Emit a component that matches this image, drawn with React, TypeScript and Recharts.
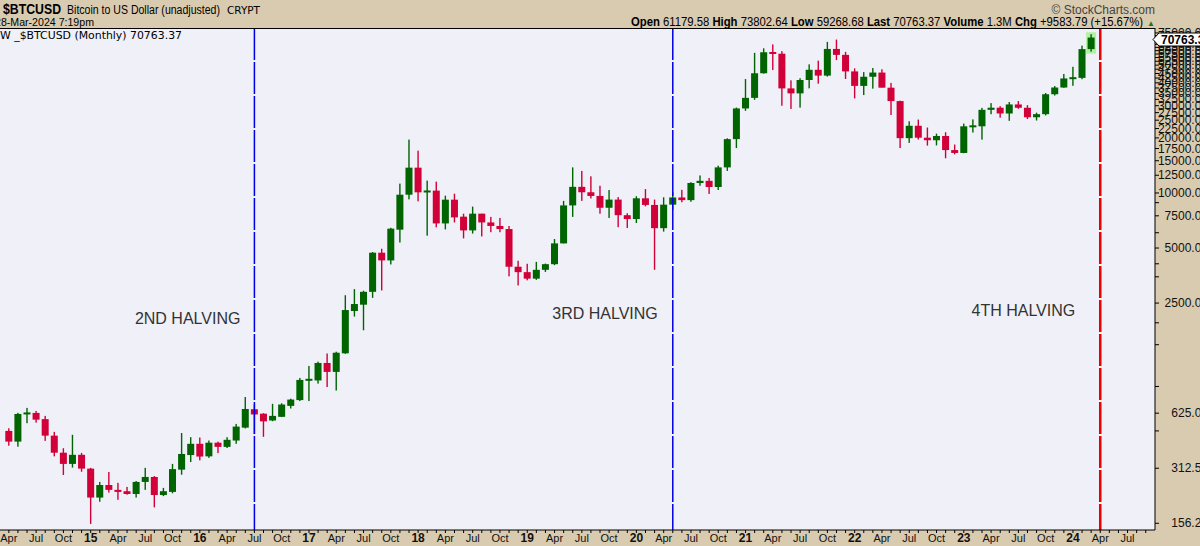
import React from "react";
import {
  ComposedChart,
  Bar,
  XAxis,
  YAxis,
  CartesianGrid,
  ReferenceLine,
} from "recharts";

// monthly candles, first one is Apr 2014, last one Mar 2024
const START_YEAR = 2014;
const START_MONTH = 3; // 0 = Jan

const opens = [
  500, 437, 619, 627, 580, 471, 380, 330, 370,
  311, 216, 253, 238, 234, 226, 263, 280, 223, 232, 307, 369,
  425, 363, 431, 409, 443, 521, 657, 621, 570, 597, 685, 737,
  948, 944, 1176, 1051, 1328, 2262, 2450, 2880, 4714, 4278, 6300, 9783,
  13750, 10080, 10300, 6815, 9190, 7420, 6242, 7705, 6900, 6600, 6350, 3950,
  3690, 3400, 3800, 4080, 5300, 8550, 10800, 10090, 9630, 8300, 9200, 7560,
  7200, 9350, 8600, 6420, 8630, 9450, 9140, 11340, 11650, 10780, 13800, 19700,
  28990, 33110, 45140, 58800, 57720, 37300, 35040, 41460, 47150, 43820, 61300, 56900,
  46200, 38500, 43190, 45540, 37640, 31800, 19940, 23300, 20050, 19420, 20490, 17160,
  16550, 23140, 23150, 28480, 29250, 27200, 30480, 29230, 25940, 26970, 34660, 37720,
  42280, 42580, 61180,
];
const highs = [
  517, 628, 668, 643, 604, 494, 402, 476, 379,
  314, 263, 298, 260, 247, 266, 314, 283, 244, 330, 487, 462,
  460, 443, 437, 462, 546, 766, 700, 625, 703, 708, 750, 974,
  1133, 1196, 1325, 1355, 2760, 2980, 2920, 4750, 4955, 6450, 11250, 19580,
  17030, 11680, 11530, 9665, 9910, 7705, 8420, 7705, 7400, 7300, 6600, 4260,
  4100, 4200, 4110, 5600, 9050, 13800, 13200, 12330, 10950, 10380, 9500, 7750,
  9600, 10500, 9200, 9470, 10080, 10400, 11450, 12470, 12080, 14100, 19900, 29300,
  41950, 58350, 61780, 64900, 59600, 41300, 42400, 50500, 52900, 67000, 69000, 59100,
  47990, 45800, 48200, 47450, 39980, 31960, 24670, 25200, 22800, 21100, 21480, 18400,
  23950, 25250, 29190, 31000, 29840, 31430, 31800, 30200, 27480, 35200, 38400, 44700,
  48970, 63900, 73800,
];
const lows = [
  415, 410, 551, 555, 441, 363, 287, 315, 299,
  155, 205, 230, 210, 224, 216, 238, 191, 220, 228, 288, 338,
  345, 356, 378, 403, 425, 516, 480, 464, 565, 596, 663, 728,
  728, 907, 869, 831, 1320, 2110, 1775, 2670, 2930, 4066, 5360, 9227,
  9000, 5840, 6485, 6320, 6900, 5645, 6000, 5785, 6100, 6100, 3500, 3120,
  3330, 3350, 3700, 4030, 5300, 7400, 9050, 9330, 7700, 7300, 6500, 6430,
  6850, 8450, 3800, 6150, 8100, 8900, 8950, 10950, 9880, 10380, 13200, 17600,
  28130, 32300, 44950, 47000, 30000, 28800, 29280, 37330, 39600, 43300, 53250, 42000,
  32900, 34300, 37200, 37700, 26700, 17600, 18780, 19600, 18150, 18200, 15480, 16260,
  16500, 21400, 19570, 26950, 25800, 24800, 28860, 25360, 24900, 26550, 34100, 37600,
  38550, 41880, 59270,
];
const closes = [
  437, 619, 627, 576, 471, 380, 330, 370, 311,
  216, 253, 238, 232, 226, 263, 280, 223, 234, 309, 374, 425,
  362, 431, 409, 447, 528, 659, 615, 564, 604, 697, 742, 950,
  955, 1176, 1051, 1338, 2290, 2470, 2880, 4714, 4278, 6380, 9783, 13750,
  10080, 10300, 6815, 9190, 7352, 6242, 7705, 6900, 6600, 6350, 3950, 3690,
  3400, 3800, 4080, 5300, 8550, 10800, 10090, 9630, 8300, 9200, 7560, 7200,
  9350, 8600, 6420, 8630, 9450, 9140, 11340, 11650, 10780, 13800, 19700, 28990,
  33110, 45140, 58800, 57720, 37300, 35040, 41460, 47150, 43820, 61300, 56900, 46200,
  38500, 43190, 45540, 37640, 31800, 19940, 23300, 20050, 19420, 20490, 17160, 16550,
  23140, 23150, 28480, 29250, 27200, 30480, 29230, 25940, 26970, 34660, 37720, 42280,
  42580, 61180, 70763.37,
];

// halving markers (month index)
const halvings = [
  { idx: 27, label: "2ND HALVING", color: "#0000e6", width: 1.5, dx: -14, y: 324 },
  { idx: 73, label: "3RD HALVING", color: "#0000e6", width: 1.5, dx: -15, y: 319 },
  { idx: 120, label: "4TH HALVING", color: "#ee0000", width: 2.5, dx: -25, y: 316 },
];

const yLabelTicks = [
  156.25, 312.5, 625, 2500, 5000, 7500, 10000, 12500, 15000, 17500, 20000,
  22500, 25000, 27500, 30000, 32500, 35000, 37500, 40000, 42500, 45000,
  47500, 50000, 52500, 55000, 57500, 60000, 62500, 65000, 67500, 70000,
  72500, 75000,
];
const yMinorTicks = [500, 875, 1480, 1950, 3480, 4100, 6060, 8850];

const MONTHS = ["Jan", "Feb", "Mar", "Apr", "May", "Jun", "Jul", "Aug", "Sep", "Oct", "Nov", "Dec"];
const monthTicks = Array.from({ length: 126 }, (_, i) => i);

const GREEN = "#006400";
const RED = "#d20038";
const TAN = "#d9cbb0";
const PLOT_BG = "#eff0f8";
const FONT = "'Liberation Sans', Arial, sans-serif";

const Y_MIN = 143.6;
const Y_MAX = 79800;

const data = opens.map((o, i) => ({
  idx: i,
  open: o,
  high: highs[i],
  low: lows[i],
  close: closes[i],
  current: i === opens.length - 1,
}));

const Candle = (props: any) => {
  const { x, y, width, height, payload } = props;
  if (x == null || !payload) return null;
  const { open, close, high, low } = payload;
  const top = Math.min(y, y + height);
  const bot = Math.max(y, y + height);
  const lh = Math.log(high);
  const ll = Math.log(low);
  const span = lh - ll || 1;
  // log axis, so interpolate in log space between high and low
  const py = (v: number) => top + ((lh - Math.log(v)) / span) * (bot - top);
  const cx = x + width / 2;
  const color = close >= open ? GREEN : RED;
  let bTop = py(Math.max(open, close));
  let bBot = py(Math.min(open, close));
  if (bBot - bTop < 2) {
    const m = (bTop + bBot) / 2;
    bTop = m - 1;
    bBot = m + 1;
  }
  return (
    <g>
      {payload.current && (
        <rect x={cx - 5} y={top - 2} width={10} height={bot - top + 4} fill="#b4f0a4" />
      )}
      <rect x={cx - 0.7} y={top} width={1.4} height={bot - top} fill={color} />
      <rect x={cx - 3.5} y={bTop} width={7} height={bBot - bTop} fill={color} />
    </g>
  );
};

const MonthTick = (props: any) => {
  const { x, y, payload } = props;
  const i = payload.value;
  const m = (START_MONTH + i) % 12;
  const yr = START_YEAR + Math.floor((START_MONTH + i) / 12);
  let label = null;
  if (m === 0) {
    label = (
      <text x={x} y={y + 12} textAnchor="middle" fontSize={12} fontWeight="bold" fontFamily={FONT} fill="#111">
        {String(yr).slice(2)}
      </text>
    );
  } else if (m % 3 === 0) {
    label = (
      <text x={x} y={y + 12} textAnchor="middle" fontSize={11} fontFamily={FONT} fill="#111">
        {MONTHS[m]}
      </text>
    );
  }
  return (
    <g>
      <line x1={x} x2={x} y1={y} y2={y + 3} stroke="#000" />
      {label}
    </g>
  );
};

const PriceTick = (props: any) => {
  const { x, y, payload } = props;
  const v = payload.value;
  const labeled = yLabelTicks.includes(v);
  return (
    <g>
      <line x1={x} x2={x + 4} y1={y} y2={y} stroke="#000" />
      {labeled && (
        <text x={x + 53} y={y + 4} textAnchor="end" fontSize={12} fontFamily={FONT} fill="#111">
          {v.toFixed(2)}
        </text>
      )}
    </g>
  );
};

export default function App() {
  return (
    <div
      style={{
        position: "fixed",
        left: 0,
        top: 0,
        width: 1200,
        height: 546,
        background: TAN,
        overflow: "hidden",
      }}
    >
      <ComposedChart
        width={1200}
        height={546}
        data={data}
        margin={{ top: 28, right: 0, bottom: 0, left: 0 }}
      >
        <CartesianGrid horizontal={false} vertical={false} fill={PLOT_BG} stroke="none" />
        <XAxis
          dataKey="idx"
          type="number"
          domain={[-0.973, 126.02]}
          allowDataOverflow
          ticks={monthTicks}
          interval={0}
          height={16}
          tickSize={0}
          tickMargin={0}
          axisLine={{ stroke: "#000" }}
          tick={<MonthTick />}
        />
        <YAxis
          orientation="right"
          scale="log"
          domain={[Y_MIN, Y_MAX]}
          allowDataOverflow
          ticks={[...yLabelTicks, ...yMinorTicks]}
          interval={0}
          width={45}
          tickSize={0}
          tickMargin={0}
          axisLine={{ stroke: "#000" }}
          tick={<PriceTick />}
        />
        <Bar
          dataKey={(d: any) => [d.low, d.high]}
          barSize={7}
          shape={<Candle />}
          isAnimationActive={false}
        />
        {halvings.map((h) => (
          <ReferenceLine
            key={h.label}
            segment={[
              { x: h.idx, y: Y_MAX },
              { x: h.idx, y: Y_MIN },
            ]}
            stroke={h.color}
            strokeWidth={h.width}
            strokeDasharray="32 2"
            label={(p: any) => (
              <text
                x={(p.viewBox?.x ?? 0) + h.dx}
                y={h.y}
                textAnchor="end"
                fontSize={16}
                fontFamily={FONT}
                fill="#333"
              >
                {h.label}
              </text>
            )}
          />
        ))}
      </ComposedChart>

      <svg
        width={1200}
        height={546}
        style={{ position: "absolute", left: 0, top: 0, pointerEvents: "none" }}
      >
        <line x1={0} x2={1155} y1={28.5} y2={28.5} stroke="#000" />
        <text x={3} y={14} fontSize={15} fontWeight="bold" fontFamily={FONT} fill="#000" textLength={58} lengthAdjust="spacingAndGlyphs">
          $BTCUSD
        </text>
        <text x={67} y={14} fontSize={12.5} fontFamily={FONT} fill="#000" textLength={153} lengthAdjust="spacingAndGlyphs">
          Bitcoin to US Dollar (unadjusted)
        </text>
        <text x={227} y={13.5} fontSize={10.5} fontFamily="'DejaVu Sans', sans-serif" fill="#000" textLength={33} lengthAdjust="spacingAndGlyphs">
          CRYPT
        </text>
        <text x={-5} y={26} fontSize={11.5} fontFamily={FONT} fill="#000" textLength={99} lengthAdjust="spacingAndGlyphs">
          28-Mar-2024 7:19pm
        </text>
        <text x={1155} y={14} textAnchor="end" fontSize={12} fontFamily={FONT} fill="#444">
          © StockCharts.com
        </text>
        <text x={631} y={26} fontSize={12} fontFamily={FONT} fill="#000" textLength={512} lengthAdjust="spacingAndGlyphs">
          <tspan fontWeight="bold">Open</tspan> 61179.58 <tspan fontWeight="bold">High</tspan> 73802.64{" "}
          <tspan fontWeight="bold">Low</tspan> 59268.68 <tspan fontWeight="bold">Last</tspan> 70763.37{" "}
          <tspan fontWeight="bold">Volume</tspan> 1.3M <tspan fontWeight="bold">Chg</tspan> +9583.79 (+15.67%)
        </text>
        <text x={1151} y={26} textAnchor="middle" fontSize={8} fontFamily={FONT} fill="#1a7a1a">
          ▲
        </text>
        <text x={0} y={38.5} fontSize={11} fontFamily="'DejaVu Sans', sans-serif" fill="#000" textLength={182} lengthAdjust="spacingAndGlyphs">
          W _$BTCUSD (Monthly) 70763.37
        </text>
        <polygon points="1153,39.5 1159,33 1201,33 1201,46 1159,46" fill="#fff" stroke="#000" />
        <text x={1161} y={44} fontSize={12} fontWeight="bold" fontFamily={FONT} fill="#000">
          70763.37
        </text>
      </svg>
    </div>
  );
}
